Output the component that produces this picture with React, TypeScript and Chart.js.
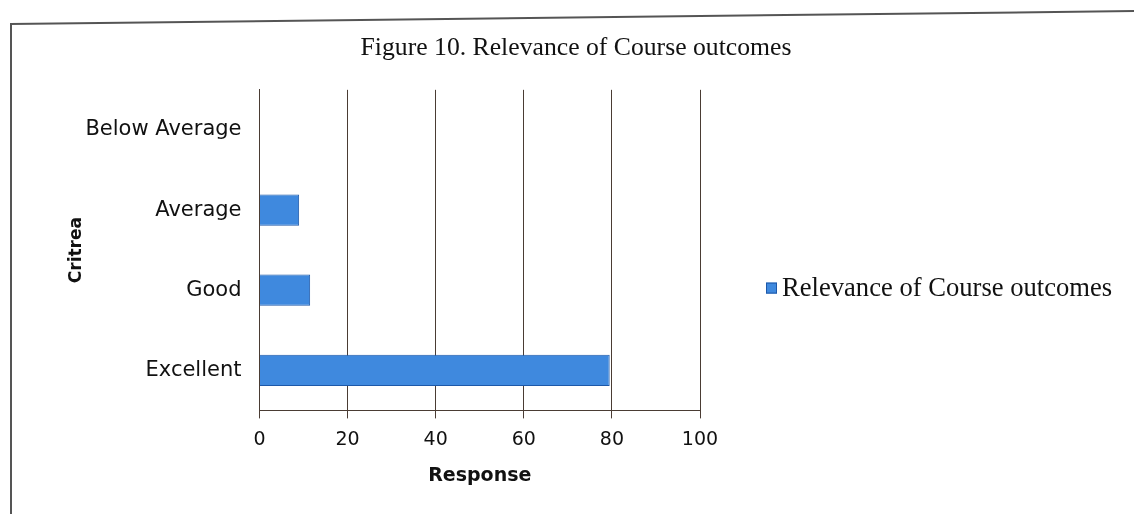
import { useEffect, useRef } from 'react';
import { Chart, registerables } from 'chart.js';
Chart.register(...registerables);

const categories = ['Below Average', 'Average', 'Good', 'Excellent'];
const responses = [0, 9, 11.5, 79.5];
const xTicks = [0, 20, 40, 60, 80, 100];
const seriesName = 'Relevance of Course outcomes';
const chartTitle = 'Figure 10. Relevance of Course outcomes';
const yTitle = 'Critrea';
const xTitle = 'Response';

const barFill = '#3f89de';
const barEdge = '#1d58a8';

const customLegend = {
  id: 'customLegend',
  afterDraw(chart: any) {
    const ctx = chart.ctx;
    const area = chart.chartArea;
    const x = area.right + 66;
    const y = area.top + (area.bottom - area.top) * 0.62;
    ctx.save();
    ctx.fillStyle = barFill;
    ctx.strokeStyle = barEdge;
    ctx.lineWidth = 1;
    ctx.fillRect(x, y - 6, 11, 11);
    ctx.strokeRect(x + 0.5, y - 5.5, 10, 10);
    ctx.fillStyle = '#111';
    ctx.font = '26.6px "Liberation Serif"';
    ctx.textBaseline = 'middle';
    ctx.textAlign = 'left';
    ctx.fillText(chart.data.datasets[0].label, x + 16, y);
    ctx.restore();
  },
};

export default function App() {
  const ref = useRef<HTMLCanvasElement>(null);
  useEffect(() => {
    const lineColor = '#4a3c34';
    const chart = new Chart(ref.current!, {
      type: 'bar',
      data: {
        labels: categories,
        datasets: [
          {
            label: seriesName,
            data: responses,
            backgroundColor: barFill,
            borderColor: barEdge,
            borderWidth: 1,
            categoryPercentage: 0.39,
            barPercentage: 1,
          },
        ],
      },
      plugins: [customLegend],
      options: {
        indexAxis: 'y',
        animation: false,
        responsive: false,
        maintainAspectRatio: false,
        layout: { padding: { left: 52, right: 34, top: 10, bottom: 27 } },
        plugins: {
          title: {
            display: true,
            text: chartTitle,
            font: { family: 'Liberation Serif', size: 25.7, weight: 'normal' },
            color: '#111',
            padding: { top: 23, bottom: 26 },
          },
          legend: { display: false },
          tooltip: { enabled: false },
        },
        scales: {
          x: {
            min: 0,
            max: 100,
            afterBuildTicks: (scale: any) => {
              scale.ticks = xTicks.map((v) => ({ value: v }));
            },
            ticks: { font: { family: 'DejaVu Sans', size: 19 }, color: '#111', padding: 10 },
            grid: { color: lineColor, tickLength: 8, drawOnChartArea: true },
            border: { color: lineColor },
            title: {
              display: true,
              text: xTitle,
              font: { family: 'DejaVu Sans', size: 19, weight: 'bold' },
              color: '#111',
              padding: { top: 3, bottom: 0 },
            },
          },
          y: {
            ticks: { font: { family: 'DejaVu Sans', size: 21 }, color: '#111', padding: 10 },
            grid: { display: false },
            border: { display: true, color: lineColor },
            title: {
              display: true,
              text: yTitle,
              font: { family: 'DejaVu Sans', size: 17, weight: 'bold' },
              color: '#111',
              padding: { top: 14, bottom: -11 },
            },
          },
          y2: {
            type: 'linear',
            position: 'right',
            display: true,
            ticks: { display: false },
            grid: { display: false },
            border: { display: false },
            afterFit: (scale: any) => {
              scale.width = 400;
            },
          },
        },
      },
    });
    return () => chart.destroy();
  }, []);
  return (
    <div style={{ position: 'fixed', left: 0, top: 0, width: 1134, height: 514, background: '#fff', overflow: 'hidden' }}>
      <div style={{ position: 'absolute', left: 10, top: 24, width: 2, height: 520, background: '#555' }} />
      <div
        style={{
          position: 'absolute',
          left: 10,
          top: 23,
          width: 1140,
          height: 2,
          background: '#555',
          transformOrigin: '0 0',
          transform: 'rotate(-0.66deg)',
        }}
      />
      <canvas ref={ref} width={1134} height={514} style={{ position: 'absolute', left: 0, top: 0 }} />
    </div>
  );
}
